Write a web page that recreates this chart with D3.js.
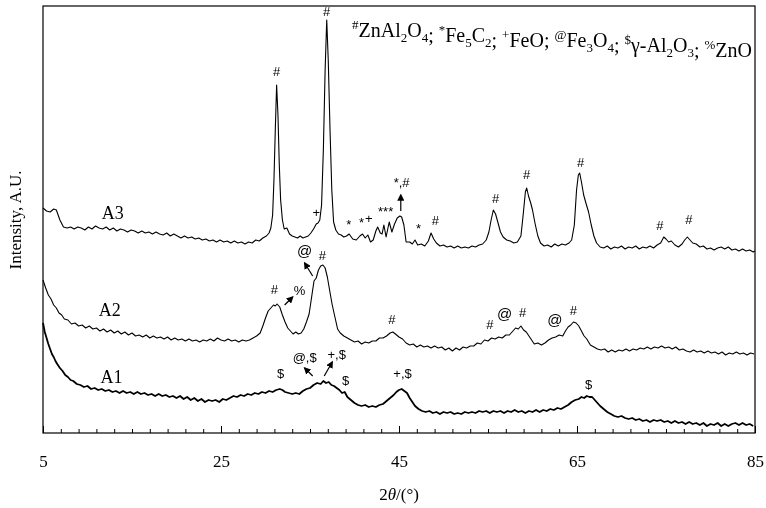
<!DOCTYPE html>
<html>
<head>
<meta charset="utf-8">
<script src="https://cdn.jsdelivr.net/npm/d3@7"></script>
<style>
  body { margin: 0; background: #fff; }
  svg { will-change: transform; }
  text { font-family: "Liberation Serif", "Times New Roman", serif; fill: #000; }
  .mark { font-family: "Liberation Sans", Arial, sans-serif; }
</style>
</head>
<body>
<div id="chart"></div>
<script>
// XRD patterns, [2theta, intensity a.u.]
var a3 = [
  [5.0,225],[5.4,222],[5.8,221],[6.2,224],[6.5,223],[6.9,213],[7.3,206],[7.7,205],[8.1,206],[8.5,204],
  [8.9,206],[9.3,205],[9.7,203],[10.1,206],[10.5,204],[10.9,207],[11.3,205],[11.7,204],[12.1,206],[12.5,203],
  [12.9,205],[13.3,202],[13.7,204],[14.1,203],[14.5,201],[14.9,203],[15.3,202],[15.7,200],[16.1,202],[16.5,200],
  [16.9,201],[17.3,199],[17.7,201],[18.1,199],[18.5,198],[18.9,200],[19.3,197],[19.7,199],[20.1,197],[20.5,195],
  [20.9,197],[21.3,195],[21.7,196],[22.1,194],[22.5,195],[22.9,193],[23.3,194],[23.7,192],[24.1,193],[24.5,191],
  [24.9,193],[25.3,191],[25.7,192],[26.1,190],[26.5,192],[26.9,190],[27.3,191],[27.7,189],[28.1,191],[28.5,190],
  [28.9,193],[29.3,192],[29.7,195],[30.1,197],[30.4,200],[30.6,205],[30.8,218],[30.95,253],[31.1,303],[31.25,348],
  [31.4,318],[31.55,268],[31.7,233],[31.9,213],[32.1,204],[32.4,205],[32.7,199],[33.0,197],[33.3,196],[33.6,195],
  [33.9,197],[34.2,195],[34.5,196],[34.8,197],[35.1,200],[35.4,204],[35.7,209],[35.9,210],[36.1,213],[36.3,228],
  [36.5,283],[36.7,363],[36.88,413],[37.05,373],[37.25,303],[37.45,243],[37.65,211],[37.9,203],[38.2,199],[38.5,198],
  [38.8,196],[39.1,197],[39.4,199],[39.8,194],[40.2,193],[40.6,197],[40.9,199],[41.2,195],[41.5,198],[41.8,191],
  [42.1,193],[42.4,202],[42.6,206],[42.9,200],[43.1,199],[43.3,208],[43.55,196],[43.9,211],[44.2,201],[44.5,209],
  [44.8,215],[45.1,217],[45.3,216],[45.55,208],[45.8,191],[46.2,191],[46.5,189],[46.8,193],[47.1,188],[47.5,189],
  [47.9,187],[48.3,192],[48.6,200],[48.9,194],[49.2,190],[49.6,187],[50.0,188],[50.4,186],[50.8,187],[51.2,185],
  [51.6,187],[52.0,185],[52.4,186],[52.8,185],[53.2,187],[53.6,186],[54.0,188],[54.4,189],[54.8,193],[55.1,201],
  [55.35,213],[55.6,223],[55.85,219],[56.1,211],[56.4,201],[56.7,196],[57.1,193],[57.5,192],[57.9,190],[58.3,191],
  [58.7,197],[58.95,218],[59.2,241],[59.35,245],[59.55,237],[59.8,230],[60.0,223],[60.3,209],[60.6,197],[60.9,190],
  [61.3,187],[61.7,188],[62.1,186],[62.5,189],[62.9,187],[63.3,189],[63.7,188],[64.1,190],[64.4,193],[64.7,208],
  [64.95,243],[65.15,258],[65.3,260],[65.5,251],[65.75,238],[66.0,230],[66.3,221],[66.6,208],[66.9,197],[67.2,190],
  [67.6,186],[68.0,185],[68.4,187],[68.8,184],[69.2,186],[69.6,185],[70.0,187],[70.4,184],[70.8,186],[71.2,185],
  [71.6,187],[72.0,184],[72.4,186],[72.8,185],[73.2,187],[73.6,185],[74.0,188],[74.4,190],[74.75,196],[75.0,194],
  [75.3,191],[75.6,192],[76.0,188],[76.4,186],[76.8,189],[77.1,193],[77.4,196],[77.7,193],[78.0,190],[78.4,189],
  [78.8,186],[79.2,187],[79.6,184],[80.0,185],[80.4,183],[80.8,185],[81.2,186],[81.6,184],[82.0,186],[82.4,183],
  [82.8,184],[83.2,182],[83.6,184],[84.0,182],[84.4,183],[84.8,181],[85.0,182]
];

var a2 = [
  [5.0,153],[5.3,145],[5.6,138],[5.9,134],[6.2,128],[6.5,125],[6.8,120],[7.1,118],[7.4,114],[7.8,113],
  [8.2,109],[8.6,110],[9.0,107],[9.4,108],[9.8,105],[10.2,107],[10.6,104],[11.0,105],[11.4,102],[11.8,104],
  [12.2,101],[12.6,103],[13.0,100],[13.4,102],[13.8,99],[14.2,101],[14.6,98],[15.0,100],[15.4,97],[15.8,98],
  [16.2,96],[16.6,98],[17.0,95],[17.4,97],[17.8,95],[18.2,96],[18.6,94],[19.0,96],[19.4,93],[19.8,95],
  [20.2,93],[20.6,94],[21.0,92],[21.4,94],[21.8,92],[22.2,93],[22.6,91],[23.0,93],[23.4,92],[23.8,94],
  [24.2,92],[24.6,95],[25.0,93],[25.4,92],[25.8,94],[26.2,92],[26.6,93],[27.0,91],[27.4,93],[27.8,92],
  [28.2,93],[28.6,95],[29.0,97],[29.4,100],[29.7,107],[30.0,115],[30.3,122],[30.6,125],[30.9,128],[31.1,127],
  [31.3,129],[31.6,126],[31.9,118],[32.2,111],[32.5,105],[32.8,102],[33.1,99],[33.4,101],[33.7,99],[34.0,100],
  [34.3,104],[34.6,111],[34.9,119],[35.2,137],[35.45,152],[35.7,155],[35.95,163],[36.2,167],[36.45,168],[36.7,165],
  [36.95,156],[37.2,143],[37.5,128],[37.8,116],[38.1,104],[38.4,100],[38.8,97],[39.2,95],[39.6,93],[40.0,91],
  [40.4,92],[40.8,89],[41.2,91],[41.6,90],[42.0,92],[42.4,92],[42.8,95],[43.2,95],[43.6,97],[44.0,100],
  [44.3,101],[44.6,99],[45.0,96],[45.4,94],[45.8,90],[46.2,88],[46.6,89],[47.0,86],[47.4,88],[47.8,86],
  [48.2,87],[48.6,85],[49.0,87],[49.4,85],[49.8,86],[50.2,83],[50.6,85],[51.0,82],[51.4,85],[51.8,83],
  [52.2,86],[52.6,85],[53.0,87],[53.4,87],[53.8,90],[54.2,89],[54.6,93],[55.0,92],[55.4,95],[55.8,94],
  [56.2,96],[56.6,95],[57.0,98],[57.4,98],[57.8,102],[58.1,105],[58.4,104],[58.7,107],[59.0,103],[59.3,101],
  [59.6,97],[59.9,93],[60.2,89],[60.6,90],[61.0,88],[61.4,90],[61.8,93],[62.2,95],[62.6,96],[63.0,98],
  [63.4,97],[63.7,102],[64.0,106],[64.3,108],[64.6,111],[64.9,110],[65.2,107],[65.5,102],[65.8,97],[66.1,94],
  [66.5,88],[66.9,86],[67.3,84],[67.7,83],[68.1,84],[68.5,81],[68.9,83],[69.3,81],[69.7,83],[70.1,82],
  [70.5,84],[70.9,82],[71.3,84],[71.7,83],[72.1,85],[72.5,84],[72.9,86],[73.3,84],[73.7,86],[74.1,85],
  [74.5,87],[74.9,85],[75.3,86],[75.7,84],[76.1,86],[76.5,83],[76.9,84],[77.3,82],[77.7,81],[78.1,83],
  [78.5,81],[78.9,82],[79.3,80],[79.7,82],[80.1,80],[80.5,81],[80.9,79],[81.3,81],[81.7,78],[82.1,80],
  [82.5,79],[82.9,81],[83.3,79],[83.7,80],[84.1,78],[84.5,80],[84.9,79]
];

var a1 = [
  [5.0,110],[5.2,101],[5.4,95],[5.6,89],[5.8,84],[6.0,79],[6.2,76],[6.4,72],[6.6,69],[6.9,65],
  [7.2,62],[7.5,58],[7.8,56],[8.1,53],[8.4,52],[8.8,49],[9.2,48],[9.6,46],[10.0,47],[10.4,44],
  [10.8,45],[11.2,43],[11.6,44],[12.0,42],[12.4,43],[12.8,41],[13.2,42],[13.6,40],[14.0,42],[14.4,40],
  [14.8,41],[15.2,39],[15.6,41],[16.0,39],[16.4,40],[16.8,38],[17.2,39],[17.6,37],[18.0,39],[18.4,37],
  [18.8,38],[19.2,36],[19.6,37],[20.0,35],[20.4,37],[20.8,34],[21.2,36],[21.6,33],[22.0,35],[22.4,32],
  [22.8,34],[23.2,31],[23.6,33],[24.0,32],[24.4,33],[24.8,31],[25.2,34],[25.6,33],[26.0,35],[26.4,37],
  [26.8,36],[27.2,38],[27.6,37],[28.0,39],[28.4,38],[28.8,40],[29.2,39],[29.6,41],[30.0,40],[30.4,42],
  [30.8,41],[31.2,43],[31.6,44],[31.9,43],[32.2,41],[32.6,40],[33.0,39],[33.4,40],[33.8,39],[34.2,42],
  [34.6,44],[35.0,45],[35.4,48],[35.8,50],[36.2,49],[36.5,52],[36.8,50],[37.1,51],[37.4,48],[37.7,47],
  [38.0,45],[38.3,43],[38.6,40],[38.9,41],[39.2,36],[39.6,33],[40.0,30],[40.4,28],[40.8,27],[41.2,28],
  [41.6,26],[42.0,27],[42.4,26],[42.8,28],[43.2,29],[43.6,32],[44.0,35],[44.4,38],[44.7,41],[45.0,43],
  [45.3,44],[45.6,42],[45.9,40],[46.2,35],[46.5,31],[46.8,27],[47.2,24],[47.6,22],[48.0,21],[48.4,22],
  [48.8,20],[49.2,21],[49.6,19],[50.0,21],[50.4,20],[50.8,21],[51.2,19],[51.6,20],[52.0,19],[52.4,21],
  [52.8,20],[53.2,21],[53.6,20],[54.0,22],[54.4,21],[54.8,22],[55.2,20],[55.6,22],[56.0,21],[56.4,22],
  [56.8,20],[57.2,22],[57.6,21],[58.0,23],[58.4,21],[58.8,22],[59.2,20],[59.6,22],[60.0,21],[60.4,23],
  [60.8,21],[61.2,23],[61.6,22],[62.0,24],[62.4,23],[62.8,25],[63.2,24],[63.6,26],[64.0,28],[64.4,31],
  [64.8,33],[65.2,34],[65.5,36],[65.8,35],[66.1,37],[66.4,36],[66.7,36],[67.0,33],[67.3,30],[67.6,27],
  [68.0,24],[68.4,21],[68.8,19],[69.2,17],[69.6,16],[70.0,17],[70.4,15],[70.8,14],[71.2,15],[71.6,13],
  [72.0,14],[72.4,12],[72.8,13],[73.2,11],[73.6,13],[74.0,12],[74.4,13],[74.8,11],[75.2,12],[75.6,10],
  [76.0,12],[76.4,10],[76.8,11],[77.2,9],[77.6,11],[78.0,9],[78.4,10],[78.8,8],[79.2,10],[79.6,7],
  [80.0,9],[80.4,8],[80.8,10],[81.2,7],[81.6,9],[82.0,7],[82.4,9],[82.8,10],[83.2,8],[83.6,10],
  [84.0,8],[84.4,9],[84.8,7]
];

var seriesNames = ["A1", "A2", "A3"];
var seriesLabelPos = [[12.7, 56], [12.5, 123], [12.85, 220]];

// phase marks: [text, 2theta, intensity]
var peakMarks = [
  ["#",31.26,361],["#",36.86,421],["+",35.7,220],["*",39.35,208],["*",40.8,210],["+",41.6,214],
  ["***",43.5,221],["*,#",45.3,250],["*",47.2,204],["#",49.1,212],["#",55.86,234],["#",59.35,258],
  ["#",65.4,270],["#",74.3,207],["#",77.56,213],
  ["#",31.0,143],["%",33.83,142],["@",34.4,181],["#",36.4,177],["#",44.2,113],["#",55.2,108],
  ["@",56.87,118],["#",58.9,120],["@",62.5,112],["#",64.6,122],
  ["$",31.7,59],["@,$",34.4,75],["+,$",38.0,78],["$",39.0,52],["+,$",45.4,59],["$",66.3,48]
];

// arrows: [from 2theta, from I, to 2theta, to I]
var arrows = [
  [45.2,222,45.2,238],
  [32.15,128,33.05,136],
  [35.3,157,34.4,170],
  [35.3,57,34.4,65],
  [36.6,57,37.5,71]
];

var legendItems = [["#","ZnAl_2O_4"],["*","Fe_5C_2"],["+","FeO"],["@","Fe_3O_4"],["$","γ-Al_2O_3"],["%","ZnO"]];
var majorTicks = [5, 25, 45, 65, 85];

var margin = {top: 6, right: 11, bottom: 75, left: 43},
    width = 766 - margin.left - margin.right,
    height = 508 - margin.top - margin.bottom;

var svg = d3.select("#chart")
  .append("svg")
    .attr("width", width + margin.left + margin.right)
    .attr("height", height + margin.top + margin.bottom)
  .append("g")
    .attr("transform", "translate(" + margin.left + "," + margin.top + ")");

var x = d3.scaleLinear().domain([5, 85]).range([0, width]);
var y = d3.scaleLinear().domain([0, 427]).range([height, 0]);

// minor ticks every 2 degrees, pointing inwards
svg.append("g")
  .attr("transform", "translate(0," + height + ")")
  .call(d3.axisBottom(x).tickValues(d3.range(7, 85, 2)).tickSize(-4).tickFormat(""))
  .call(function(g) { g.select(".domain").remove(); });

var xAxis = svg.append("g")
  .attr("transform", "translate(0," + height + ")")
  .call(d3.axisBottom(x).tickValues(majorTicks).tickSize(-7).tickPadding(22).tickFormat(d3.format("d")));
xAxis.select(".domain").remove();
xAxis.selectAll("text")
  .style("font-family", "'Liberation Serif', 'Times New Roman', serif")
  .style("font-size", "17px");

// frame
svg.append("rect")
  .attr("width", width)
  .attr("height", height)
  .attr("fill", "none")
  .attr("stroke", "#000")
  .attr("stroke-width", 1.2);

// axis titles
var xt = svg.append("text")
  .attr("x", width / 2)
  .attr("y", height + 67)
  .attr("text-anchor", "middle")
  .style("font-size", "17px");
xt.append("tspan").text("2");
xt.append("tspan").style("font-style", "italic").text("θ");
xt.append("tspan").text("/(°)");

svg.append("text")
  .attr("transform", "rotate(-90)")
  .attr("x", -(220 - margin.top))
  .attr("y", 21 - margin.left)
  .attr("text-anchor", "middle")
  .style("font-size", "17px")
  .text("Intensity, A.U.");

// curves
var line = d3.line()
  .x(function(d) { return x(d[0]); })
  .y(function(d) { return y(d[1]); });

[a1, a2, a3].forEach(function(data, i) {
  svg.append("path")
    .datum(data)
    .attr("d", line)
    .attr("fill", "none")
    .attr("stroke", "#000")
    .attr("stroke-width", i == 0 ? 1.8 : 1.1)
    .attr("stroke-linejoin", "round");
});

seriesNames.forEach(function(name, i) {
  svg.append("text")
    .attr("x", x(seriesLabelPos[i][0]))
    .attr("y", y(seriesLabelPos[i][1]) + 6)
    .attr("text-anchor", "middle")
    .style("font-size", "18px")
    .text(name);
});

// phase marks
svg.selectAll(".mark")
  .data(peakMarks)
  .enter()
  .append("text")
    .attr("class", "mark")
    .attr("x", function(d) { return x(d[1]); })
    .attr("y", function(d) { return y(d[2]) + 4; })
    .attr("text-anchor", "middle")
    .style("font-size", function(d) { return d[0] == "@" ? "15px" : "13px"; })
    .text(function(d) { return d[0]; });

// arrows
svg.append("defs").append("marker")
  .attr("id", "head")
  .attr("viewBox", "0 0 10 10")
  .attr("refX", 8).attr("refY", 5)
  .attr("markerWidth", 6).attr("markerHeight", 6)
  .attr("orient", "auto")
  .append("path")
    .attr("d", "M0,0 L10,5 L0,10 z")
    .attr("fill", "#000");

svg.selectAll(".arrow")
  .data(arrows)
  .enter()
  .append("line")
    .attr("x1", function(d) { return x(d[0]); })
    .attr("y1", function(d) { return y(d[1]); })
    .attr("x2", function(d) { return x(d[2]); })
    .attr("y2", function(d) { return y(d[3]); })
    .attr("stroke", "#000")
    .attr("stroke-width", 1.2)
    .attr("marker-end", "url(#head)");

// legend line at top right
var leg = svg.append("text")
  .attr("x", width - 3)
  .attr("y", 31)
  .attr("text-anchor", "end")
  .style("font-size", "20px");

legendItems.forEach(function(item, i) {
  leg.append("tspan").attr("dy", -8).style("font-size", "13px").text(item[0]);
  var parts = item[1].split("_");
  leg.append("tspan").attr("dy", 8).text(parts[0]);
  for (var k = 1; k < parts.length; k++) {
    leg.append("tspan").attr("dy", 5).style("font-size", "13px").text(parts[k].charAt(0));
    leg.append("tspan").attr("dy", -5).text(parts[k].slice(1));
  }
  if (i < legendItems.length - 1) leg.append("tspan").text("; ");
});
</script>
</body>
</html>
